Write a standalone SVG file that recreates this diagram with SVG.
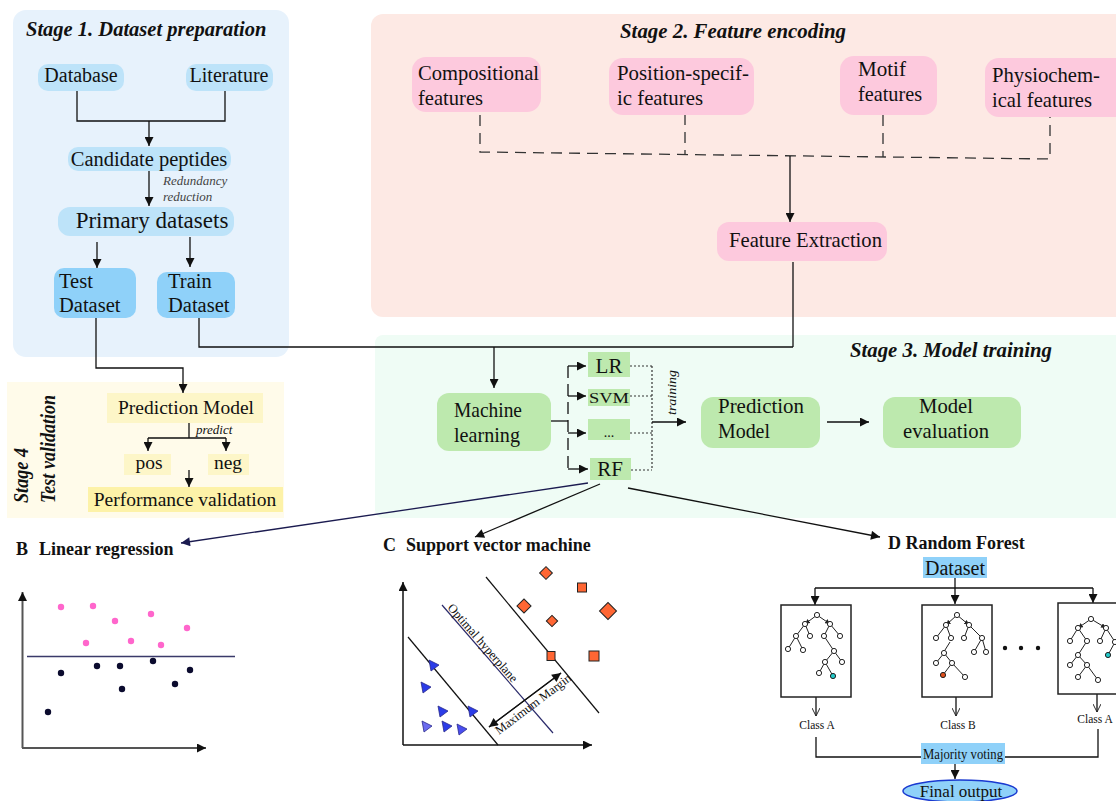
<svg xmlns="http://www.w3.org/2000/svg" width="1116" height="801" viewBox="0 0 1116 801">
<defs>
<style>
.t{font-family:'Liberation Serif','Times New Roman',serif;fill:#111}
.bi{font-weight:bold;font-style:italic}
.b{font-weight:bold}
.i{font-style:italic}
.c{stroke:#111;stroke-width:1.3;fill:none}
.a{marker-end:url(#ah)}
.dash{stroke:#333;stroke-width:1.3;fill:none;stroke-dasharray:11 7}
.dot{stroke:#333;stroke-width:1.2;fill:none;stroke-dasharray:2 2}
.s1{fill:#bde3f9}
.s1d{fill:#8fd1f9}
.pk{fill:#fdc9dd}
.gr{fill:#bde9ae}
.yl{fill:#fdf6c8}
.tn{fill:#fff;stroke:#222;stroke-width:1}
.te{stroke:#222;stroke-width:1}
</style>
<marker id="ah" viewBox="0 0 10 10" refX="10" refY="5" markerWidth="10" markerHeight="9" markerUnits="userSpaceOnUse" orient="auto"><path d="M0,0 L10,5 L0,10 z" fill="#111"/></marker>
<marker id="ahn" viewBox="0 0 10 10" refX="10" refY="5" markerWidth="10" markerHeight="9" markerUnits="userSpaceOnUse" orient="auto"><path d="M0,0 L10,5 L0,10 z" fill="#1b1b50"/></marker>
<marker id="av" viewBox="0 0 10 10" refX="10" refY="5" markerWidth="11" markerHeight="8" markerUnits="userSpaceOnUse" orient="auto"><path d="M0,0 L10,5 L0,10" fill="none" stroke="#222" stroke-width="1.2"/></marker>
<marker id="tiny" viewBox="0 0 10 10" refX="10" refY="5" markerWidth="5" markerHeight="5" markerUnits="userSpaceOnUse" orient="auto"><path d="M0,0 L10,5 L0,10 z" fill="#222"/></marker>
</defs>
<rect width="1116" height="801" fill="#fff"/>

<!-- Panels -->
<g id="panel-stage1">
<rect x="13" y="10" width="276" height="347" rx="13" fill="#e7f2fc"/>
<text class="t bi" x="26" y="36" font-size="20.5">Stage 1. Dataset preparation</text>
</g>
<g id="panel-stage2">
<rect x="371" y="14" width="760" height="303" rx="12" fill="#fde9e4"/>
<text class="t bi" x="620" y="38" font-size="21" textLength="226" lengthAdjust="spacingAndGlyphs">Stage 2. Feature encoding</text>
</g>
<g id="panel-stage3">
<rect x="375" y="335" width="760" height="183" rx="8" fill="#effcf5"/>
<text class="t bi" x="850" y="357" font-size="21" textLength="202" lengthAdjust="spacingAndGlyphs">Stage 3. Model training</text>
</g>
<g id="panel-stage4">
<rect x="7" y="382" width="277" height="136" fill="#fffbea"/>
<text class="t bi" transform="translate(28,503) rotate(-90)" font-size="21" textLength="55" lengthAdjust="spacingAndGlyphs">Stage 4</text>
<text class="t bi" transform="translate(55,503) rotate(-90)" font-size="21" textLength="108" lengthAdjust="spacingAndGlyphs">Test validation</text>
</g>

<!-- Connectors -->
<g id="connectors">
<path class="c" d="M77,91 V121 H225 V91"/>
<path class="c a" d="M149,121 V146"/>
<path class="c a" d="M149,171 V206"/>
<path class="c a" d="M97,242 V268"/>
<path class="c a" d="M190,237 V267"/>
<path class="c a" d="M96,318 V368 H183 V393"/>
<path class="c" d="M199,318 V347 H793"/>
<path class="c" d="M793,262 V347"/>
<path class="c a" d="M494,347 V388"/>
<path class="dash" d="M480,115 V152 L1050,159 V117"/>
<path class="dash" d="M685,114 V154"/>
<path class="dash" d="M883,115 V157"/>
<path class="c a" d="M790,156 V222"/>
<path class="c" d="M551,421 H568"/>
<path class="c" d="M568,366 V470" stroke-dasharray="12 6"/>
<path class="c a" d="M568,366 H586"/>
<path class="c a" d="M568,396 H586"/>
<path class="c a" d="M568,433 H586"/>
<path class="c a" d="M568,469 H588"/>
<path class="dot" d="M630,366 H652 M630,396 H652 M630,433 H652 M631,470 H652 M652,366 V470"/>
<path class="c a" d="M652,422 H686"/>
<path class="c a" d="M827,422 H869"/>
<path class="c" d="M189,423 V438 M148,438 H226"/>
<path class="c a" d="M148,438 V451"/>
<path class="c a" d="M226,438 V451"/>
<path class="c a" d="M189,470 V487"/>
<path d="M588,483 L181,543" stroke="#1b1b50" stroke-width="1.3" fill="none" marker-end="url(#ahn)"/>
<path class="c a" d="M600,484 L475,537"/>
<path class="c a" d="M628,488 L880,537"/>
<path class="c a" d="M955,578 V604"/>
<path class="c" d="M815,588 H1093"/>
<path class="c a" d="M815,588 V605"/>
<path class="c a" d="M1093,588 V603"/>
<path class="c" d="M816,697 V716" marker-end="url(#av)"/>
<path class="c" d="M956,697 V716" marker-end="url(#av)"/>
<path class="c" d="M1097,694 V712" marker-end="url(#av)"/>
<path class="c" d="M816,737 V757 H1098 V729"/>
<path class="c a" d="M955,764 V779"/>
</g>

<!-- Stage 1 nodes -->
<g id="n-database"><rect class="s1" x="38" y="64" width="86" height="27" rx="10"/><text class="t" x="81" y="82" font-size="20" text-anchor="middle">Database</text></g>
<g id="n-literature"><rect class="s1" x="186" y="64" width="87" height="27" rx="10"/><text class="t" x="229" y="82" font-size="20" text-anchor="middle">Literature</text></g>
<g id="n-candidate"><rect class="s1" x="68" y="147" width="163" height="24" rx="10"/><text class="t" x="149" y="166" font-size="20.5" text-anchor="middle">Candidate peptides</text>
<text class="t i" x="163" y="185" font-size="13" style="fill:#444">Redundancy</text><text class="t i" x="163" y="201" font-size="13" style="fill:#444">reduction</text></g>
<g id="n-primary"><rect class="s1" x="58" y="207" width="176" height="29" rx="12"/><text class="t" x="152" y="228" font-size="23" text-anchor="middle">Primary datasets</text></g>
<g id="n-test"><rect class="s1d" x="54" y="268" width="82" height="50" rx="10"/><text class="t" x="59" y="288" font-size="20.5">Test</text><text class="t" x="59" y="312" font-size="20.5">Dataset</text></g>
<g id="n-train"><rect class="s1d" x="157" y="272" width="78" height="46" rx="10"/><text class="t" x="168" y="288" font-size="20.5">Train</text><text class="t" x="168" y="312" font-size="20.5">Dataset</text></g>

<!-- Stage 2 nodes -->
<g id="n-compositional"><rect class="pk" x="412" y="57" width="129" height="55" rx="14"/><text class="t" x="418" y="80" font-size="22" textLength="121" lengthAdjust="spacingAndGlyphs">Compositional</text><text class="t" x="418" y="105" font-size="22" textLength="65" lengthAdjust="spacingAndGlyphs">features</text></g>
<g id="n-position"><rect class="pk" x="609" y="58" width="145" height="57" rx="14"/><text class="t" x="617" y="80" font-size="22" textLength="132" lengthAdjust="spacingAndGlyphs">Position-specif-</text><text class="t" x="617" y="105" font-size="22" textLength="86" lengthAdjust="spacingAndGlyphs">ic features</text></g>
<g id="n-motif"><rect class="pk" x="840" y="56" width="97" height="59" rx="14"/><text class="t" x="858" y="76" font-size="22" textLength="48" lengthAdjust="spacingAndGlyphs">Motif</text><text class="t" x="858" y="101" font-size="22" textLength="64" lengthAdjust="spacingAndGlyphs">features</text></g>
<g id="n-physio"><rect class="pk" x="985" y="58" width="150" height="59" rx="14"/><text class="t" x="992" y="82" font-size="22" textLength="108" lengthAdjust="spacingAndGlyphs">Physiochem-</text><text class="t" x="992" y="107" font-size="22" textLength="100" lengthAdjust="spacingAndGlyphs">ical features</text></g>
<g id="n-feature-extraction"><rect class="pk" x="717" y="222" width="170" height="39" rx="12"/><text class="t" x="729" y="247" font-size="22" textLength="153" lengthAdjust="spacingAndGlyphs">Feature Extraction</text></g>

<!-- Stage 3 nodes -->
<g id="n-ml"><rect class="gr" x="437" y="393" width="114" height="58" rx="12"/><text class="t" x="454" y="417" font-size="22" textLength="68" lengthAdjust="spacingAndGlyphs">Machine</text><text class="t" x="454" y="442" font-size="22" textLength="66" lengthAdjust="spacingAndGlyphs">learning</text></g>
<g id="n-lr"><rect class="gr" x="588" y="352" width="42" height="25"/><text class="t" x="609" y="373" font-size="21" text-anchor="middle">LR</text></g>
<g id="n-svm"><rect class="gr" x="588" y="389" width="42" height="17"/><text class="t" x="609" y="403" font-size="15" text-anchor="middle" textLength="40" lengthAdjust="spacingAndGlyphs">SVM</text></g>
<g id="n-etc"><rect class="gr" x="588" y="419" width="42" height="21"/><text class="t" x="609" y="437" font-size="14" text-anchor="middle">...</text></g>
<g id="n-rf"><rect class="gr" x="590" y="458" width="41" height="22"/><text class="t" x="610" y="476" font-size="21" text-anchor="middle">RF</text></g>
<g id="n-training-label"><text class="t i" transform="translate(676,415) rotate(-90)" font-size="13" textLength="45" lengthAdjust="spacingAndGlyphs">training</text></g>
<g id="n-prediction3"><rect class="gr" x="701" y="397" width="119" height="51" rx="12"/><text class="t" x="718" y="413" font-size="22" textLength="86" lengthAdjust="spacingAndGlyphs">Prediction</text><text class="t" x="718" y="438" font-size="22" textLength="52" lengthAdjust="spacingAndGlyphs">Model</text></g>
<g id="n-evaluation"><rect class="gr" x="883" y="397" width="138" height="51" rx="12"/><text class="t" x="919" y="413" font-size="22" textLength="54" lengthAdjust="spacingAndGlyphs">Model</text><text class="t" x="903" y="438" font-size="22" textLength="86" lengthAdjust="spacingAndGlyphs">evaluation</text></g>

<!-- Stage 4 nodes -->
<g id="n-prediction4"><rect class="yl" x="107" y="393" width="156" height="30"/><text class="t" x="186" y="414" font-size="19.5" text-anchor="middle">Prediction Model</text>
<text class="t i" x="196" y="434" font-size="13">predict</text></g>
<g id="n-pos"><rect class="yl" x="124" y="454" width="47" height="21"/><text class="t" x="149" y="469" font-size="19.5" text-anchor="middle">pos</text></g>
<g id="n-neg"><rect class="yl" x="208" y="454" width="41" height="21"/><text class="t" x="228" y="469" font-size="19.5" text-anchor="middle">neg</text></g>
<g id="n-performance"><rect x="88" y="487" width="195" height="25" fill="#fdf2a8"/><text class="t" x="185" y="506" font-size="19.5" text-anchor="middle">Performance validation</text></g>

<!-- B Linear regression -->
<g id="panel-B">
<text class="t b" x="16" y="555" font-size="18">B</text>
<text class="t b" x="39" y="555" font-size="18">Linear regression</text>
<path d="M22.5,748 V592" stroke="#555" stroke-width="2" fill="none" marker-end="url(#ah)"/>
<path d="M22,748 H206" stroke="#555" stroke-width="2" fill="none" marker-end="url(#ah)"/>
<path d="M27,656.5 H235" stroke="#3a3a6a" stroke-width="1.3"/>
<g fill="#ff66cc">
<circle cx="61" cy="607" r="3.2"/><circle cx="93" cy="606" r="3.2"/><circle cx="115" cy="621" r="3.2"/><circle cx="151" cy="614" r="3.2"/><circle cx="187" cy="628" r="3.2"/><circle cx="86" cy="643" r="3.2"/><circle cx="131" cy="641" r="3.2"/><circle cx="161" cy="645" r="3.2"/>
</g>
<g fill="#0b0b2e">
<circle cx="61" cy="673" r="3.2"/><circle cx="97" cy="666" r="3.2"/><circle cx="120" cy="666" r="3.2"/><circle cx="153" cy="661" r="3.2"/><circle cx="190" cy="670" r="3.2"/><circle cx="175" cy="684" r="3.2"/><circle cx="122" cy="689" r="3.2"/><circle cx="48" cy="712" r="3.2"/>
</g>
</g>

<!-- C SVM -->
<g id="panel-C">
<text class="t b" x="383" y="551" font-size="18">C</text>
<text class="t b" x="406" y="551" font-size="18">Support vector machine</text>
<path d="M403,745 V582" stroke="#111" stroke-width="1.5" fill="none" marker-end="url(#ah)"/>
<path d="M403,745 H592" stroke="#111" stroke-width="1.5" fill="none" marker-end="url(#ah)"/>
<path d="M408,637 L498,745" stroke="#111" stroke-width="1.2"/>
<path d="M442,605 L553,733" stroke="#2a2a6a" stroke-width="1.2"/>
<path d="M486,577 L599,713" stroke="#111" stroke-width="1.2"/>
<path d="M489,727 L561,673" stroke="#111" stroke-width="1.2" fill="none" marker-end="url(#ah)"/>
<path d="M561,673 L489,727" stroke="#111" stroke-width="1.2" fill="none" marker-end="url(#ah)"/>
<text class="t" transform="translate(447,608) rotate(49)" font-size="12.5">Optimal hyperplane</text>
<text class="t" transform="translate(499,735) rotate(-37)" font-size="12.5">Maximum Margin</text>
<g fill="#ff6633" stroke="#222" stroke-width="1">
<rect x="-4.5" y="-4.5" width="9" height="9" transform="translate(546,573) rotate(45)"/>
<rect x="577.5" y="583" width="9" height="9"/>
<rect x="-5" y="-5" width="10" height="10" transform="translate(524,606) rotate(45)"/>
<rect x="-6" y="-6" width="12" height="12" transform="translate(608,611) rotate(45)"/>
<rect x="-4" y="-4" width="8" height="8" transform="translate(552,621) rotate(45)"/>
<rect x="547" y="651.5" width="8" height="9"/>
<rect x="589" y="651" width="10" height="10"/>
</g>
<g fill="#2b3ce8" stroke="#2a2a8a" stroke-width="0.8">
<polygon points="-4,-6 -2,5 6,-1" transform="translate(433,666)"/>
<polygon points="-4,-6 -2,5 6,-1" transform="translate(425,688)"/>
<polygon points="-4,-6 -2,5 6,-1" transform="translate(442,712)"/>
<polygon points="-4,-6 -2,5 6,-1" transform="translate(472,712)"/>
<polygon points="-4,-6 -2,5 6,-1" transform="translate(426,727)" fill="#6b6bef"/>
<polygon points="-4,-6 -2,5 6,-1" transform="translate(446,727)"/>
<polygon points="-4,-6 -2,5 6,-1" transform="translate(461,730)" fill="#4a4ef0"/>
</g>
</g>

<!-- D Random Forest -->
<g id="panel-D">
<text class="t b" x="888" y="549" font-size="18">D Random Forest</text>
</g>
<g id="n-dataset-rf"><rect class="s1d" x="923" y="557" width="64" height="21"/><text class="t" x="955" y="575" font-size="20" text-anchor="middle">Dataset</text></g>
<g id="n-tree1">
<rect x="781" y="605" width="70" height="92" fill="#fff" stroke="#222" stroke-width="1.5"/>
<g class="te">
<line x1="817" y1="615" x2="805" y2="624" marker-end="url(#tiny)"/><line x1="817" y1="615" x2="830" y2="624" marker-end="url(#tiny)"/>
<line x1="805" y1="624" x2="796" y2="636"/><line x1="805" y1="624" x2="810" y2="636"/>
<line x1="796" y1="636" x2="788" y2="649"/><line x1="796" y1="636" x2="803" y2="650"/>
<line x1="830" y1="624" x2="824" y2="636"/><line x1="830" y1="624" x2="840" y2="636"/>
<line x1="824" y1="636" x2="834" y2="651"/><line x1="834" y1="651" x2="825" y2="662"/><line x1="834" y1="651" x2="842" y2="662"/>
<line x1="825" y1="662" x2="819" y2="673"/><line x1="825" y1="662" x2="833" y2="676"/>
</g>
<g class="tn">
<circle cx="817" cy="615" r="2.6"/><circle cx="805" cy="624" r="2.6"/><circle cx="830" cy="624" r="2.6"/><circle cx="796" cy="636" r="2.6"/><circle cx="810" cy="636" r="2.6"/><circle cx="824" cy="636" r="2.6"/><circle cx="840" cy="636" r="2.6"/><circle cx="788" cy="649" r="2.6"/><circle cx="803" cy="650" r="2.6"/><circle cx="834" cy="651" r="2.6"/><circle cx="825" cy="662" r="2.6"/><circle cx="842" cy="662" r="2.6"/><circle cx="819" cy="673" r="2.6"/><circle cx="833" cy="676" r="2.6" fill="#22c8c8"/>
</g>
</g>
<g id="n-tree2">
<rect x="922" y="605" width="70" height="92" fill="#fff" stroke="#222" stroke-width="1.5"/>
<g class="te">
<line x1="957" y1="615" x2="946" y2="625" marker-end="url(#tiny)"/><line x1="957" y1="615" x2="969" y2="625" marker-end="url(#tiny)"/>
<line x1="946" y1="625" x2="936" y2="638"/><line x1="946" y1="625" x2="951" y2="638"/>
<line x1="950" y1="642" x2="945" y2="650"/>
<line x1="944" y1="653" x2="936" y2="663"/><line x1="944" y1="653" x2="952" y2="663"/>
<line x1="952" y1="663" x2="943" y2="675"/><line x1="952" y1="663" x2="965" y2="677"/>
<line x1="969" y1="625" x2="964" y2="638"/><line x1="969" y1="625" x2="982" y2="638"/>
<line x1="982" y1="638" x2="974" y2="652"/><line x1="982" y1="638" x2="986" y2="652"/>
</g>
<g class="tn">
<circle cx="957" cy="615" r="2.6"/><circle cx="946" cy="625" r="2.6"/><circle cx="969" cy="625" r="2.6"/><circle cx="936" cy="638" r="2.6"/><circle cx="951" cy="638" r="2.6"/><circle cx="964" cy="638" r="2.6"/><circle cx="982" cy="638" r="2.6"/><circle cx="944" cy="653" r="2.6"/><circle cx="974" cy="652" r="2.6"/><circle cx="986" cy="652" r="2.6"/><circle cx="936" cy="663" r="2.6"/><circle cx="952" cy="663" r="2.6"/><circle cx="943" cy="675" r="2.6" fill="#e0501c"/><circle cx="965" cy="677" r="2.6"/>
</g>
</g>
<g id="n-dots"><circle cx="1005" cy="648" r="2.2" fill="#111"/><circle cx="1021" cy="648" r="2.2" fill="#111"/><circle cx="1038" cy="648" r="2.2" fill="#111"/></g>
<g id="n-tree3">
<rect x="1058" y="603" width="70" height="91" fill="#fff" stroke="#222" stroke-width="1.5"/>
<g class="te">
<line x1="1091" y1="619" x2="1078" y2="628" marker-end="url(#tiny)"/><line x1="1091" y1="619" x2="1106" y2="628" marker-end="url(#tiny)"/>
<line x1="1078" y1="628" x2="1070" y2="641"/><line x1="1078" y1="628" x2="1087" y2="641"/>
<line x1="1087" y1="641" x2="1078" y2="655"/><line x1="1078" y1="655" x2="1070" y2="665"/><line x1="1078" y1="655" x2="1087" y2="665"/>
<line x1="1087" y1="665" x2="1078" y2="677"/><line x1="1087" y1="665" x2="1098" y2="680"/>
<line x1="1106" y1="628" x2="1100" y2="641"/><line x1="1106" y1="628" x2="1115" y2="642"/><line x1="1115" y1="642" x2="1108" y2="655"/>
</g>
<g class="tn">
<circle cx="1091" cy="619" r="2.6"/><circle cx="1078" cy="628" r="2.6"/><circle cx="1106" cy="628" r="2.6"/><circle cx="1070" cy="641" r="2.6"/><circle cx="1087" cy="641" r="2.6"/><circle cx="1100" cy="641" r="2.6"/><circle cx="1115" cy="642" r="2.6"/><circle cx="1108" cy="655" r="2.6" fill="#22c8c8"/><circle cx="1078" cy="655" r="2.6"/><circle cx="1070" cy="665" r="2.6"/><circle cx="1087" cy="665" r="2.6"/><circle cx="1078" cy="677" r="2.6"/><circle cx="1098" cy="680" r="2.6"/>
</g>
</g>
<g id="n-classA1"><text class="t" x="817" y="729" font-size="11.5" text-anchor="middle">Class A</text></g>
<g id="n-classB"><text class="t" x="958" y="729" font-size="11.5" text-anchor="middle">Class B</text></g>
<g id="n-classA2"><text class="t" x="1095" y="723" font-size="11.5" text-anchor="middle">Class A</text></g>
<g id="n-majority"><rect class="s1d" x="921" y="743" width="84" height="21"/><text class="t" x="963" y="759" font-size="15" text-anchor="middle" textLength="80" lengthAdjust="spacingAndGlyphs">Majority voting</text></g>
<g id="n-final"><ellipse cx="960" cy="791" rx="57" ry="11" fill="#8fd1f9" stroke="#1a3ad0" stroke-width="1.5"/><text class="t" x="961" y="797" font-size="17" text-anchor="middle">Final output</text></g>
</svg>
